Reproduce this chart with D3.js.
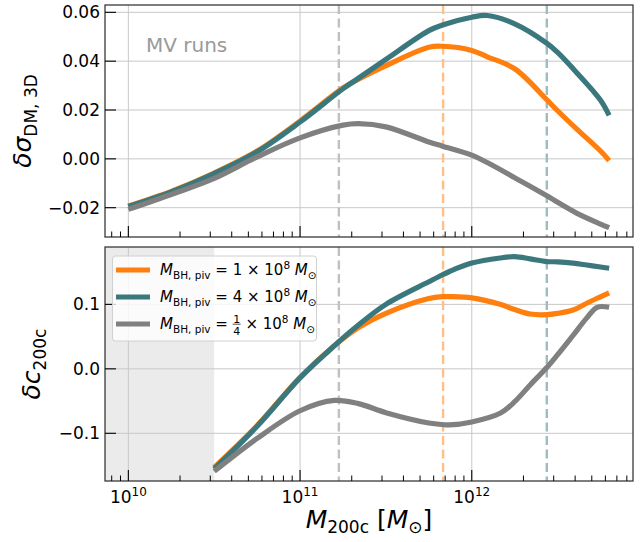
<!DOCTYPE html>
<html>
<head>
<meta charset="utf-8">
<script src="https://d3js.org/d3.v7.min.js"></script>
<style>
  body { margin: 0; background: #fff; }
  svg text { font-family: "DejaVu Sans", sans-serif; }
</style>
</head>
<body>
<svg id="chart" width="641" height="542"></svg>
<script>
// halo mass grid (log10 M200c) and the curves
var logMassTop = [10.0, 10.25, 10.5, 10.75, 11.0, 11.25, 11.34, 11.5, 11.75, 11.83, 12.0, 12.09, 12.25, 12.44, 12.5, 12.61, 12.75, 12.8];
var sigmaOrange = [-0.0193, -0.0133, -0.0058, 0.0032, 0.0155, 0.029, 0.0326, 0.0382, 0.0457, 0.0461, 0.0444, 0.0418, 0.0369, 0.024, 0.0197, 0.0123, 0.0032, -0.0007];
var sigmaTeal = [-0.0195, -0.0135, -0.006, 0.0029, 0.0151, 0.0287, 0.033, 0.0407, 0.0525, 0.0548, 0.058, 0.0587, 0.0553, 0.0472, 0.0436, 0.0354, 0.024, 0.0178];
var sigmaGrey = [-0.0207, -0.0146, -0.008, 0.0008, 0.0086, 0.0138, 0.0144, 0.0131, 0.0069, 0.0052, 0.0015, -0.0015, -0.0077, -0.0152, -0.0178, -0.0222, -0.0267, -0.0282];

var logMassBot = [10.5, 10.75, 11.0, 11.2, 11.34, 11.5, 11.75, 11.83, 11.87, 12.0, 12.165, 12.25, 12.34, 12.437, 12.5, 12.59, 12.67, 12.73, 12.8];
var cOrange = [-0.153, -0.088, -0.013, 0.036, 0.064, 0.086, 0.109, 0.112, 0.112, 0.110, 0.100, 0.092, 0.085, 0.084, 0.086, 0.0913, 0.1017, 0.1095, 0.118];
var cTeal = [-0.155, -0.089, -0.014, 0.036, 0.068, 0.100, 0.135, 0.146, 0.151, 0.164, 0.172, 0.174, 0.1706, 0.1664, 0.166, 0.164, 0.161, 0.1587, 0.156];
var cGrey = [-0.159, -0.108, -0.065, -0.049, -0.054, -0.068, -0.084, -0.0865, -0.087, -0.0824, -0.069, -0.051, -0.025, 0.002, 0.022, 0.052, 0.079, 0.0955, 0.0955];

// pivot masses (dashed verticals) and resolution limit (shaded)
var pivotLogMass = [11.226, 11.833, 12.437];
var resLimitLogMass = 10.5;

var yTicksTop = [-0.02, 0.00, 0.02, 0.04, 0.06];
var yTicksBot = [-0.1, 0.0, 0.1];
var xTickExp = [10, 11, 12];

var seriesNames = ["1", "4", "1/4"];
var colors = ["#ff7f0e", "#3b787d", "#808080"];
var dashColors = ["#c0c0c0", "#ffbf86", "#9dbcbe"];

var svg = d3.select("#chart");

var x = d3.scaleLog()
    .domain([Math.pow(10, 9.864), Math.pow(10, 12.939)])
    .range([105, 633]);

var yTop = d3.scaleLinear().domain([-0.032, 0.063]).range([237, 5]);
var yBot = d3.scaleLinear().domain([-0.174, 0.189]).range([481, 247]);

var panels = [
  {y: yTop, lm: logMassTop, series: [sigmaOrange, sigmaTeal, sigmaGrey], ticks: yTicksTop, fmt: d3.format(".2f")},
  {y: yBot, lm: logMassBot, series: [cOrange, cTeal, cGrey], ticks: yTicksBot, fmt: d3.format(".1f"), shade: true, xlabels: true}
];

// draw a string made of pieces (italic / sub / sup) inside one text node
function mathText(sel, parts) {
  var off = 0;
  parts.forEach(function(p) {
    var shift = p.shift || 0;
    sel.append("tspan")
      .attr("dy", (shift - off))
      .attr("font-size", p.size)
      .attr("font-style", p.italic ? "italic" : "normal")
      .text(p.t);
    off = shift;
  });
  return sel;
}

var minorMult = [2, 3, 4, 5, 6, 7, 8, 9];
var minorTicks = [];
[9, 10, 11, 12].forEach(function(e) {
  minorMult.forEach(function(m) {
    var v = m * Math.pow(10, e);
    if (v > x.domain()[0] && v < x.domain()[1]) minorTicks.push(v);
  });
});

panels.forEach(function(p, pi) {
  var y = p.y;
  var top = y.range()[1], bot = y.range()[0];
  var g = svg.append("g");

  g.append("clipPath").attr("id", "clip" + pi)
    .append("rect").attr("x", 105).attr("y", top).attr("width", 528).attr("height", bot - top);

  if (p.shade) {
    g.append("rect")
      .attr("x", 105).attr("y", top)
      .attr("width", x(Math.pow(10, resLimitLogMass)) - 105)
      .attr("height", bot - top)
      .attr("fill", "#ebebeb");
  }

  // grid
  g.selectAll(".gx").data(xTickExp).enter().append("line")
    .attr("x1", d => x(Math.pow(10, d))).attr("x2", d => x(Math.pow(10, d)))
    .attr("y1", top).attr("y2", bot)
    .attr("stroke", "#c8c8c8").attr("stroke-width", 1);
  g.selectAll(".gy").data(p.ticks).enter().append("line")
    .attr("x1", 105).attr("x2", 633)
    .attr("y1", d => y(d)).attr("y2", d => y(d))
    .attr("stroke", "#c8c8c8").attr("stroke-width", 1);

  // pivot masses
  g.selectAll(".piv").data(pivotLogMass).enter().append("line")
    .attr("x1", d => x(Math.pow(10, d))).attr("x2", d => x(Math.pow(10, d)))
    .attr("y1", top).attr("y2", bot)
    .attr("stroke", (d, i) => dashColors[i])
    .attr("stroke-width", 2.4)
    .attr("stroke-dasharray", "9,4.5");

  var line = d3.line()
    .x((d, i) => x(Math.pow(10, p.lm[i])))
    .y(d => y(d))
    .curve(d3.curveCatmullRom.alpha(0.5));

  g.append("g").attr("clip-path", "url(#clip" + pi + ")")
    .selectAll("path").data(p.series).enter().append("path")
    .attr("d", line)
    .attr("fill", "none")
    .attr("stroke", (d, i) => colors[i])
    .attr("stroke-width", 5.2);

  // frame
  g.append("rect")
    .attr("x", 105).attr("y", top).attr("width", 528).attr("height", bot - top)
    .attr("fill", "none").attr("stroke", "#3a3a3a").attr("stroke-width", 1.3);

  // ticks, pointing inwards
  g.selectAll(".tx").data(xTickExp).enter().append("line")
    .attr("x1", d => x(Math.pow(10, d))).attr("x2", d => x(Math.pow(10, d)))
    .attr("y1", bot).attr("y2", bot - 11)
    .attr("stroke", "#000").attr("stroke-width", 1.1);
  g.selectAll(".mx").data(minorTicks).enter().append("line")
    .attr("x1", d => x(d)).attr("x2", d => x(d))
    .attr("y1", bot).attr("y2", bot - 5.5)
    .attr("stroke", "#000").attr("stroke-width", 1);
  g.selectAll(".ty").data(p.ticks).enter().append("line")
    .attr("x1", 105).attr("x2", 116)
    .attr("y1", d => y(d)).attr("y2", d => y(d))
    .attr("stroke", "#000").attr("stroke-width", 1.1);

  g.selectAll(".ly").data(p.ticks).enter().append("text")
    .attr("x", 100).attr("y", d => y(d))
    .attr("dy", "0.36em")
    .attr("text-anchor", "end")
    .attr("font-size", 17)
    .text(d => p.fmt(d).replace("-", "\u2212"));

  if (p.xlabels) {
    xTickExp.forEach(function(e) {
      var t = g.append("text")
        .attr("x", x(Math.pow(10, e))).attr("y", 503)
        .attr("text-anchor", "middle");
      mathText(t, [{t: "10", size: 17}, {t: String(e), size: 12, shift: -7}]);
    });
  }
});

// axis labels
var yl1 = svg.append("text")
  .attr("transform", "translate(31,121) rotate(-90)")
  .attr("text-anchor", "middle");
mathText(yl1, [{t: "δσ", size: 25, italic: true}, {t: "DM, 3D", size: 17, shift: 6}]);

var yl2 = svg.append("text")
  .attr("transform", "translate(40,364) rotate(-90)")
  .attr("text-anchor", "middle");
mathText(yl2, [{t: "δc", size: 25, italic: true}, {t: "200c", size: 17, shift: 6}]);

var xl = svg.append("text")
  .attr("x", 369).attr("y", 528)
  .attr("text-anchor", "middle");
mathText(xl, [{t: "M", size: 25, italic: true}, {t: "200c", size: 17, shift: 5},
  {t: "\u00a0[", size: 25, shift: 0}, {t: "M", size: 25, italic: true}, {t: "⊙", size: 17, shift: 5}, {t: "]", size: 25, shift: 0}]);

svg.append("text")
  .attr("x", 146).attr("y", 52)
  .attr("font-size", 20)
  .attr("fill", "#9a9a9a")
  .text("MV runs");

// legend
var leg = svg.append("g");
leg.append("rect")
  .attr("x", 112.5).attr("y", 256).attr("width", 204).attr("height", 85)
  .attr("rx", 3)
  .attr("fill", "#fff").attr("fill-opacity", 0.8)
  .attr("stroke", "#d0d0d0");

var rowY = [270, 297, 324];
seriesNames.forEach(function(name, i) {
  leg.append("line")
    .attr("x1", 116).attr("x2", 150)
    .attr("y1", rowY[i]).attr("y2", rowY[i])
    .attr("stroke", colors[i]).attr("stroke-width", 5.2);

  var base = rowY[i] + 5;
  var t1 = leg.append("text").attr("x", 160).attr("y", base);
  var head = [{t: "M", size: 15, italic: true}, {t: "BH, piv", size: 10.5, shift: 4}, {t: "\u00a0=\u00a0", size: 15, shift: 0}];
  var tail = [{t: "\u00a0×\u00a010", size: 15}, {t: "8", size: 10.5, shift: -6},
    {t: "\u00a0M", size: 15, italic: true, shift: 0}, {t: "⊙", size: 10.5, shift: 4}];
  if (name.indexOf("/") < 0) {
    mathText(t1, head.concat([{t: name, size: 15}]).concat(tail));
  } else {
    mathText(t1, head);
    var w = t1.node().getComputedTextLength();
    var fx = 160 + w + 4;
    var nd = name.split("/");
    leg.append("text").attr("x", fx).attr("y", base - 6.5).attr("text-anchor", "middle")
      .attr("font-size", 11).text(nd[0]);
    leg.append("line").attr("x1", fx - 4).attr("x2", fx + 4)
      .attr("y1", base - 4.8).attr("y2", base - 4.8)
      .attr("stroke", "#000").attr("stroke-width", 0.7);
    leg.append("text").attr("x", fx).attr("y", base + 6).attr("text-anchor", "middle")
      .attr("font-size", 11).text(nd[1]);
    var t2 = leg.append("text").attr("x", fx + 4).attr("y", base);
    mathText(t2, tail);
  }
});
</script>
</body>
</html>
